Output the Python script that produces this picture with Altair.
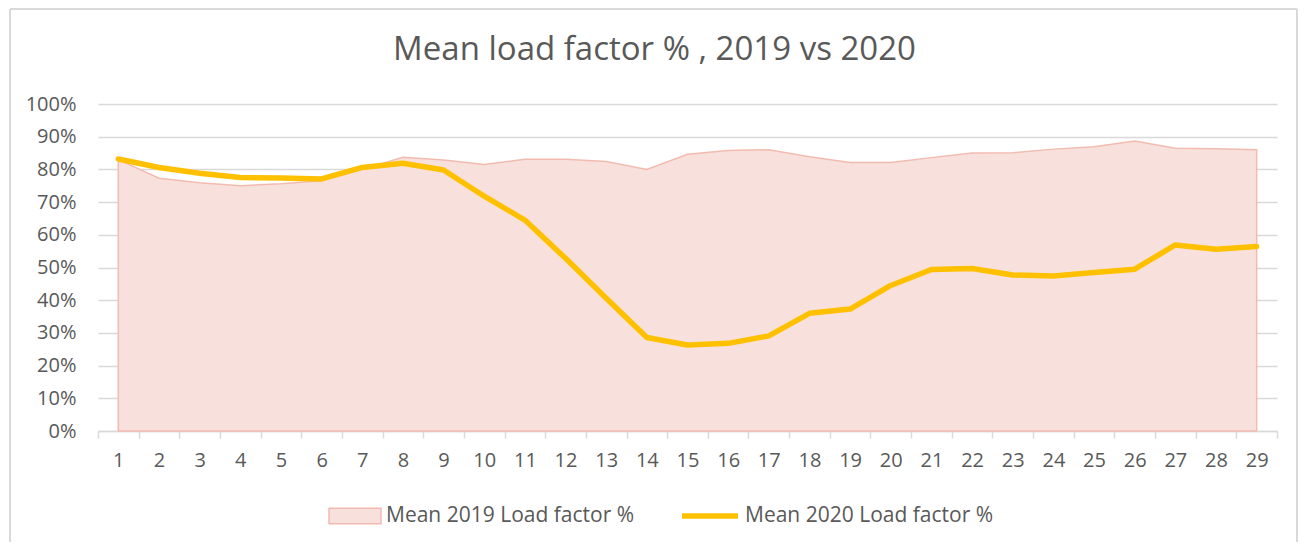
import altair as alt
import pandas as pd

days = list(range(1, 30))
load_2019 = [83.0, 77.3, 75.9, 75.0, 75.6, 76.5, 80.0, 83.7, 82.9, 81.5,
             83.1, 83.1, 82.4, 80.0, 84.6, 85.8, 86.0, 83.9, 82.1, 82.1,
             83.6, 85.0, 85.1, 86.2, 86.9, 88.7, 86.5, 86.3, 86.0]
load_2020 = [83.2, 80.6, 78.8, 77.5, 77.4, 77.1, 80.6, 81.9, 79.8, 71.8,
             64.5, 52.8, 40.6, 28.6, 26.3, 26.8, 29.1, 36.0, 37.3, 44.5,
             49.4, 49.7, 47.7, 47.4, 48.5, 49.5, 56.9, 55.6, 56.4]
label_2019 = "Mean 2019 Load factor %"
label_2020 = "Mean 2020 Load factor %"
y_ticks = list(range(0, 101, 10))
title_text = "Mean load factor % , 2019 vs 2020"

df = pd.DataFrame({
    "day": days,
    "v2019": load_2019,
    "v2020": load_2020,
    "s2019": [label_2019] * len(days),
    "s2020": [label_2020] * len(days),
})

FONT = "Open Sans"
TXT = "#595959"
GRID = "#d9d9d9"
PINK_FILL = "#F8E1DC"
PINK_LINE = "#F2BBB0"
GOLD = "#FFC000"

band_edges = [d - 0.5 for d in days] + [days[-1] + 0.5]
xscale = alt.Scale(domain=[band_edges[0], band_edges[-1]], nice=False, zero=False)
yscale = alt.Scale(domain=[0, 100], nice=False)

y_axis = alt.Axis(values=y_ticks, grid=True, gridColor=GRID, gridWidth=1.5,
                  domain=False, ticks=False, labelExpr="datum.value + '%'",
                  labelFont=FONT, labelFontSize=20, labelColor=TXT,
                  labelPadding=22, title=None, orient="left")

base = alt.Chart(df)

# axis with tick marks at category boundaries (no labels)
ticks_layer = base.mark_point(opacity=0).encode(
    x=alt.X("day:Q", scale=xscale,
            axis=alt.Axis(values=band_edges, labels=False, ticks=True, tickSize=7,
                          tickColor=GRID, tickWidth=1.5, domain=True, domainColor=GRID,
                          domainWidth=1.5, grid=False, title=None, orient="bottom")),
    y=alt.Y("v2019:Q", scale=yscale, axis=y_axis),
)

area = base.mark_area(stroke=PINK_LINE, strokeWidth=1.5, interpolate="linear").encode(
    x=alt.X("day:Q", scale=xscale,
            axis=alt.Axis(values=days, labels=True, ticks=False, domain=False, grid=False,
                          labelFont=FONT, labelFontSize=20, labelColor=TXT,
                          labelPadding=19, title=None, orient="bottom")),
    y=alt.Y("v2019:Q", scale=yscale, axis=y_axis),
    fill=alt.Fill("s2019:N", scale=alt.Scale(range=[PINK_FILL]),
                  legend=alt.Legend(orient="none", legendX=230, legendY=385, title=None,
                                    symbolType="M-1,-0.3L1,-0.3L1,0.3L-1,0.3Z",
                                    symbolSize=2704, symbolStrokeColor=PINK_LINE,
                                    symbolStrokeWidth=1.5, symbolOpacity=1,
                                    labelFont=FONT, labelFontSize=21, labelColor=TXT,
                                    labelOffset=4, labelLimit=400)),
)

line = base.mark_line(strokeWidth=5.5, strokeCap="round", strokeJoin="round").encode(
    x=alt.X("day:Q", scale=xscale,
            axis=alt.Axis(values=days, labels=False, ticks=False, domain=False, grid=False,
                          title=None, orient="bottom")),
    y=alt.Y("v2020:Q", scale=yscale, axis=y_axis),
    stroke=alt.Stroke("s2020:N", scale=alt.Scale(range=[GOLD]),
                      legend=alt.Legend(orient="none", legendX=581, legendY=381, title=None,
                                        symbolType="stroke", symbolSize=3136,
                                        symbolStrokeWidth=5.5,
                                        labelFont=FONT, labelFontSize=21, labelColor=TXT,
                                        labelOffset=4, labelLimit=400)),
)

frame_left = alt.Chart(df).mark_rule(color=GRID, strokeWidth=1.5).encode(
    x=alt.value(-88), y=alt.value(-95), y2=alt.value(440))
frame_right = alt.Chart(df).mark_rule(color=GRID, strokeWidth=1.5).encode(
    x=alt.value(1199), y=alt.value(-95), y2=alt.value(440))
frame_top = alt.Chart(df).mark_rule(color=GRID, strokeWidth=1.5).encode(
    x=alt.value(-88), x2=alt.value(1199), y=alt.value(-95))

chart = alt.layer(ticks_layer, area, line, frame_left, frame_right, frame_top).resolve_axis(
    x="independent"
).properties(
    width=1179,
    height=327,
    padding={"left": 90, "top": 96, "right": 22, "bottom": 111},
    autosize=alt.AutoSizeParams(type="none"),
    title=alt.TitleParams(title_text, font=FONT, fontSize=33, fontWeight="normal",
                          color=TXT, anchor="middle", dx=-33, offset=0, dy=59),
).configure_view(stroke=None)

chart.save("out.html", embed_options={"renderer": "svg", "actions": False})
